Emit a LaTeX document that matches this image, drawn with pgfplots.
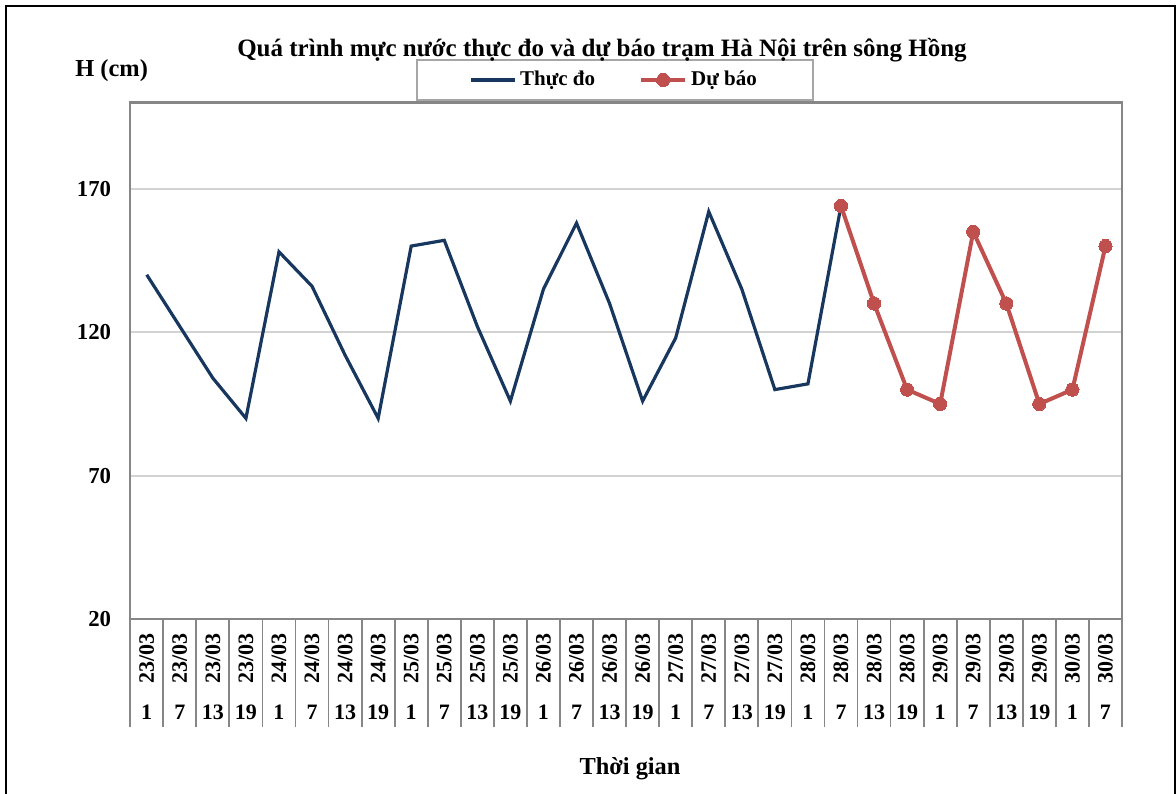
\documentclass[border=0pt]{standalone}
\usepackage{fontspec}
\setmainfont{Liberation Serif}
\usepackage{graphicx}
\usepackage{pgfplots}
\pgfplotsset{compat=1.18}
\definecolor{obs}{RGB}{23,55,94}
\definecolor{fc}{RGB}{192,80,77}
\definecolor{axisgray}{RGB}{134,134,134}
\definecolor{gridgray}{RGB}{210,210,210}
\definecolor{leggray}{RGB}{166,166,166}
\newcommand{\rb}[1]{\rotatebox{90}{#1}}
\begin{document}
\begin{tikzpicture}
\useasboundingbox (0,0) rectangle (588pt,396.5pt);
\draw[black, line width=1pt] (3pt,-2pt) -- (3pt,393.5pt) -- (587.5pt,393.5pt) -- (587.5pt,-2pt);
\begin{axis}[
  at={(65.1pt,86.85pt)}, anchor=south west,
  scale only axis, width=495.9pt, height=258.4pt,
  xmin=-0.5, xmax=29.5, ymin=20, ymax=200,
  ytick={20,70,120,170},
  ymajorgrids, major grid style={gridgray, line width=1pt},
  axis line style={axisgray, line width=1.1pt},
  xtick pos=lower, ytick pos=left,
  tick align=outside,
  major tick length=0pt,
  minor tick length=54pt,
  minor xtick={-0.5,0.5,...,29.5},
  every minor tick/.append style={axisgray, line width=0.9pt},
  xtick={0,...,29},
  xticklabels={\rb{23/03},\rb{23/03},\rb{23/03},\rb{23/03},\rb{24/03},\rb{24/03},\rb{24/03},\rb{24/03},\rb{25/03},\rb{25/03},\rb{25/03},\rb{25/03},\rb{26/03},\rb{26/03},\rb{26/03},\rb{26/03},\rb{27/03},\rb{27/03},\rb{27/03},\rb{27/03},\rb{28/03},\rb{28/03},\rb{28/03},\rb{28/03},\rb{29/03},\rb{29/03},\rb{29/03},\rb{29/03},\rb{30/03},\rb{30/03}},
  xticklabel style={anchor=center, yshift=-19.4pt},
  extra x ticks={0,...,29},
  extra x tick labels={1,7,13,19,1,7,13,19,1,7,13,19,1,7,13,19,1,7,13,19,1,7,13,19,1,7,13,19,1,7},
  extra x tick style={major tick length=0pt, tick label style={yshift=-27.2pt}},
  ticklabel style={font=\bfseries\fontsize{11}{13}\selectfont},
  yticklabel style={anchor=east, xshift=-6pt, font=\bfseries\fontsize{11.4}{13}\selectfont},
  /pgf/number format/assume math mode=true,
  legend columns=2,
  legend style={at={(0.2882,1.0035)}, anchor=south west, draw=leggray, line width=0.9pt,
    font=\bfseries\fontsize{10.5}{12}\selectfont, inner xsep=26pt, inner ysep=3.5pt,
    /tikz/every even column/.append style={column sep=20pt}},
  legend image code/.code={\draw[mark repeat=2,mark phase=2,#1] plot coordinates {(0pt,0pt) (11pt,0pt) (22pt,0pt)};},
]
\addplot[obs, line width=1.6pt, mark=none] coordinates {
(0,140) (1,122) (2,104) (3,90) (4,148) (5,136) (6,112) (7,90) (8,150) (9,152)
(10,122) (11,96) (12,135) (13,158) (14,130) (15,96) (16,118) (17,162) (18,135) (19,100)
(20,102) (21,164)};
\addlegendentry{Thực đo}
\addplot[fc, line width=2pt, mark=*, mark size=3.3pt, mark options={fill=fc, draw=fc, line width=0pt}] coordinates {
(21,164) (22,130) (23,100) (24,95) (25,155) (26,130) (27,95) (28,100) (29,150)};
\addlegendentry{Dự báo}
\end{axis}
\node[anchor=base, font=\bfseries\fontsize{12.5}{14}\selectfont] at (301pt,368.25pt) {Quá trình mực nước thực đo và dự báo trạm Hà Nội trên sông Hồng};
\node[anchor=base west, inner sep=0pt, font=\bfseries\fontsize{12.2}{14}\selectfont] at (37.5pt,358.2pt) {H (cm)};
\node[anchor=base, font=\bfseries\fontsize{12.2}{14}\selectfont] at (315pt,9.5pt) {Thời gian};
\end{tikzpicture}
\end{document}
